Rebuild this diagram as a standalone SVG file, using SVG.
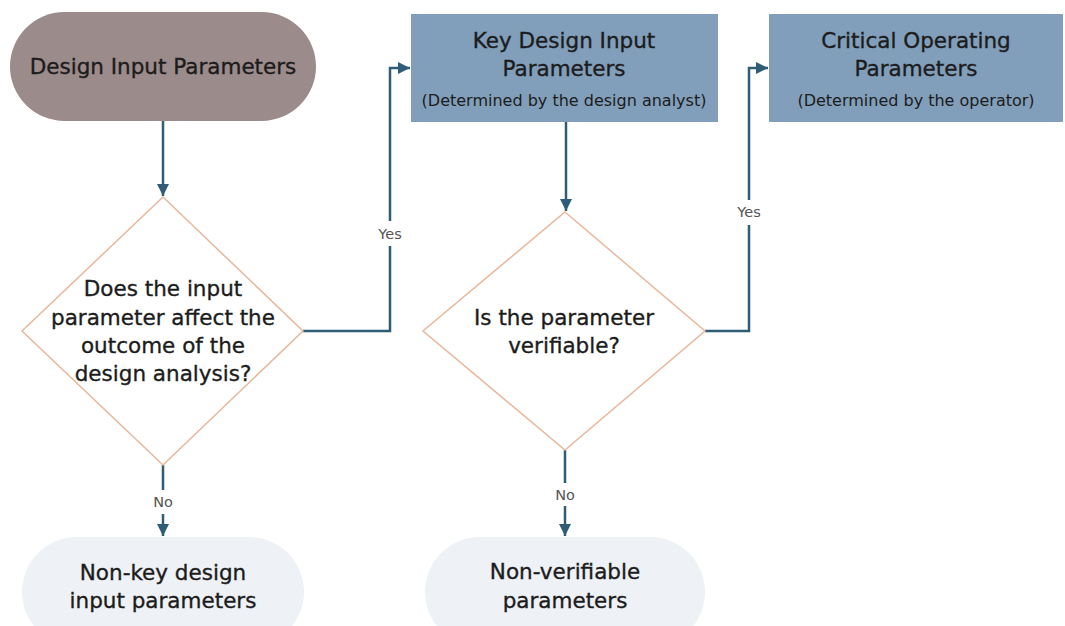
<svg xmlns="http://www.w3.org/2000/svg" width="1065" height="626" viewBox="0 0 1065 626">
<style>
text{font-family:"DejaVu Sans",sans-serif;fill:#1c1c1c;text-anchor:middle;dominant-baseline:central}
.t{font-size:21.5px;stroke:#1c1c1c;stroke-width:0.35}
.s{font-size:16px}
.lbl{font-size:14.5px;fill:#555}
.dia{fill:#fff;stroke:#e9b79a;stroke-width:1.5}
.box{fill:#819fba}
.end{fill:#eef1f5}
.con{fill:none;stroke:#2f5d78;stroke-width:2.5}
</style>
<defs>
<marker id="ah" viewBox="0 0 10 10" refX="10" refY="5" markerWidth="5" markerHeight="5" orient="auto" markerUnits="strokeWidth">
<path d="M0,0 L10,5 L0,10 z" fill="#2f5d78"/>
</marker>
</defs>
<rect width="1065" height="626" fill="#fff"/>
<g id="connectors">
<path class="con" d="M163,121 V196" marker-end="url(#ah)"/>
<path class="con" d="M303,331 H390 V246 M390,221 V68 H410" marker-end="url(#ah)"/>
<path class="con" d="M566,122 V211" marker-end="url(#ah)"/>
<path class="con" d="M705,331 H749 V225 M749,200 V68 H768" marker-end="url(#ah)"/>
<path class="con" d="M163,465 V490 M163,514 V536" marker-end="url(#ah)"/>
<path class="con" d="M565,450 V483 M565,506 V536" marker-end="url(#ah)"/>
<text class="lbl" x="390" y="234">Yes</text>
<text class="lbl" x="749" y="212">Yes</text>
<text class="lbl" x="163" y="502">No</text>
<text class="lbl" x="565" y="495">No</text>
</g>
<g id="start">
<rect x="10" y="12" width="306" height="109" rx="54.5" fill="#9b8b8a"/>
<text class="t" x="163" y="66">Design Input Parameters</text>
</g>
<g id="key">
<rect class="box" x="411" y="14" width="307" height="108"/>
<text class="t" x="564" y="40">Key Design Input</text>
<text class="t" x="564" y="68">Parameters</text>
<text class="s" x="564" y="100">(Determined by the design analyst)</text>
</g>
<g id="critical">
<rect class="box" x="769" y="14" width="294" height="108"/>
<text class="t" x="916" y="40">Critical Operating</text>
<text class="t" x="916" y="68">Parameters</text>
<text class="s" x="916" y="100">(Determined by the operator)</text>
</g>
<g id="q1">
<polygon class="dia" points="163,197 303,331 163,465 22,331"/>
<text class="t" x="163" y="288">Does the input</text>
<text class="t" x="163" y="317">parameter affect the</text>
<text class="t" x="163" y="345">outcome of the</text>
<text class="t" x="163" y="373">design analysis?</text>
</g>
<g id="q2">
<polygon class="dia" points="565,212 705,331 565,450 423,331"/>
<text class="t" x="564" y="317">Is the parameter</text>
<text class="t" x="564" y="345">verifiable?</text>
</g>
<g id="nonkey">
<rect class="end" x="22" y="537" width="282" height="110" rx="55"/>
<text class="t" x="163" y="572">Non-key design</text>
<text class="t" x="163" y="600">input parameters</text>
</g>
<g id="nonver">
<rect class="end" x="425" y="537" width="280" height="110" rx="55"/>
<text class="t" x="565" y="571">Non-verifiable</text>
<text class="t" x="565" y="600">parameters</text>
</g>
</svg>
